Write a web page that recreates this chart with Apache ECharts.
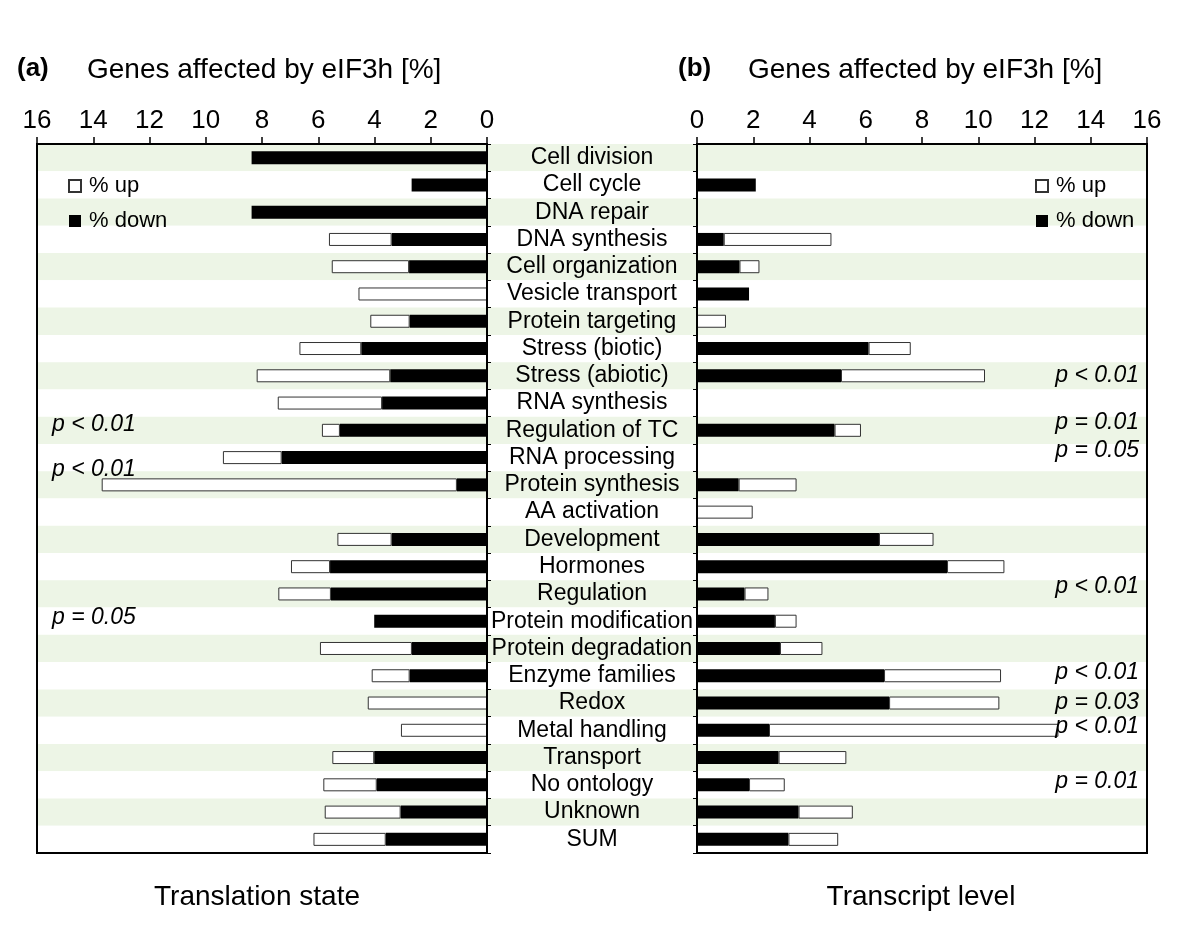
<!DOCTYPE html>
<html>
<head>
<meta charset="utf-8">
<script src="https://cdn.jsdelivr.net/npm/echarts@6/dist/echarts.min.js"></script>
<style>html,body{margin:0;padding:0;background:#fff}#c{width:1200px;height:928px}</style>
</head>
<body>
<div id="c"></div>
<script>
var categories = ['Cell division','Cell cycle','DNA repair','DNA synthesis','Cell organization','Vesicle transport','Protein targeting','Stress (biotic)','Stress (abiotic)','RNA synthesis','Regulation of TC','RNA processing','Protein synthesis','AA activation','Development','Hormones','Regulation','Protein modification','Protein degradation','Enzyme families','Redox','Metal handling','Transport','No ontology','Unknown','SUM'];
// (a) Translation state
var leftDown = [8.37,2.68,8.37,3.39,2.77,0,2.75,4.47,3.44,3.73,5.23,7.30,1.07,0,3.39,5.58,5.55,4.01,2.67,2.75,0,0,4.01,3.92,3.07,3.60];
var leftUp   = [0,0,0,2.23,2.75,4.57,1.40,2.20,4.75,3.71,0.64,2.09,12.63,0,1.93,1.39,1.87,0,3.27,1.35,4.24,3.06,1.49,1.90,2.70,2.57];
// (b) Transcript level
var rightDown = [0,2.09,0,0.95,1.51,1.85,0,6.10,5.12,0,4.89,0,1.48,0,6.47,8.89,1.69,2.77,2.95,6.65,6.83,2.56,2.90,1.85,3.61,3.25];
var rightUp   = [0,0,0,3.83,0.71,0,1.03,1.50,5.12,0,0.94,0,2.06,1.98,1.94,2.04,0.85,0.77,1.51,4.16,3.92,10.29,2.41,1.27,1.93,1.77];
var xTicks = [0,2,4,6,8,10,12,14,16];
var leftPvals = [
  {text:'p < 0.01', y:425},
  {text:'p < 0.01', y:470},
  {text:'p = 0.05', y:618}
];
var rightPvals = [
  {text:'p < 0.01', y:376},
  {text:'p = 0.01', y:423},
  {text:'p = 0.05', y:451},
  {text:'p < 0.01', y:587},
  {text:'p < 0.01', y:673},
  {text:'p = 0.03', y:703},
  {text:'p < 0.01', y:727},
  {text:'p = 0.01', y:782}
];

var FONT = 'Liberation Sans, Arial, Helvetica, sans-serif';
function nz(a){ return a.map(function(v){ return v === 0 ? '-' : v; }); }

var top0 = 144, h0 = 709;
var chart = echarts.init(document.getElementById('c'), null, {renderer:'canvas'});

function valueAxis(gi, inverse){
  return {
    gridIndex: gi, type:'value', min: xTicks[0], max: xTicks[xTicks.length-1], interval: 2,
    inverse: inverse, position:'top', z: 5,
    axisLine:{show:true, lineStyle:{color:'#000', width:2}},
    axisTick:{show:true, inside:false, length:7, lineStyle:{color:'#000', width:1.5}},
    axisLabel:{show:true, color:'#000', fontSize:26, fontFamily:FONT, margin:10},
    splitLine:{show:false}
  };
}

var graphic = [
  {type:'text', left:17, top:56, style:{text:'(a)', font:'bold 26px ' + FONT, fill:'#000'}},
  {type:'text', left:87, top:56, style:{text:'Genes affected by eIF3h [%]', font:'28px ' + FONT, fill:'#000'}},
  {type:'text', left:678, top:56, style:{text:'(b)', font:'bold 26px ' + FONT, fill:'#000'}},
  {type:'text', left:748, top:56, style:{text:'Genes affected by eIF3h [%]', font:'28px ' + FONT, fill:'#000'}},
  {type:'text', x:257, y:897, style:{text:'Translation state', font:'28px ' + FONT, fill:'#000', textAlign:'center', textVerticalAlign:'middle'}},
  {type:'text', x:921, y:897, style:{text:'Transcript level', font:'28px ' + FONT, fill:'#000', textAlign:'center', textVerticalAlign:'middle'}}
];
leftPvals.forEach(function(p){
  graphic.push({type:'text', x:52, y:p.y, z:10, style:{text:p.text, font:'italic 23px ' + FONT, fill:'#000', textAlign:'left', textVerticalAlign:'middle'}});
});
rightPvals.forEach(function(p){
  graphic.push({type:'text', x:1139, y:p.y, z:10, style:{text:p.text, font:'italic 23px ' + FONT, fill:'#000', textAlign:'right', textVerticalAlign:'middle'}});
});

var legendBase = {
  orient:'vertical', top:170, itemWidth:12, itemHeight:12, itemGap:13, selectedMode:false,
  icon:'rect', data:['% up','% down'],
  textStyle:{fontSize:22, color:'#000', fontFamily:FONT, padding:[0,0,0,3]}
};

var option = {
  animation:false,
  backgroundColor:'#fff',
  textStyle:{fontFamily:FONT},
  grid:[
    {left:37, top:top0, width:450, height:h0, show:true, borderColor:'#000', borderWidth:2, backgroundColor:'transparent', z:4},
    {left:697, top:top0, width:450, height:h0, show:true, borderColor:'#000', borderWidth:2, backgroundColor:'transparent', z:4},
    {left:37, top:top0, width:1110, height:h0, show:false}
  ],
  legend:[
    Object.assign({left:63}, legendBase),
    Object.assign({left:1030}, legendBase)
  ],
  xAxis:[
    valueAxis(0, true),
    valueAxis(1, false),
    {gridIndex:2, type:'value', show:false, min:0, max:1}
  ],
  yAxis:[
    {gridIndex:0, type:'category', data:categories, inverse:true, position:'right', z:5,
     axisLine:{show:true, lineStyle:{color:'#000', width:2}},
     axisTick:{show:true, inside:false, length:4, interval:0, lineStyle:{color:'#000'}},
     axisLabel:{show:false}, splitLine:{show:false}},
    {gridIndex:1, type:'category', data:categories, inverse:true, position:'left', z:5,
     axisLine:{show:true, lineStyle:{color:'#000', width:2}},
     axisTick:{show:true, inside:false, length:4, interval:0, lineStyle:{color:'#000'}},
     axisLabel:{show:true, interval:0, hideOverlap:false, align:'center', margin:105, fontSize:23, color:'#000', fontFamily:FONT},
     splitLine:{show:false}},
    {gridIndex:2, type:'category', data:categories, inverse:true, z:-1,
     axisLine:{show:false}, axisTick:{show:false}, axisLabel:{show:false},
     splitArea:{show:true, interval:0, areaStyle:{color:['#edf5e6','#ffffff']}}}
  ],
  series:[
    {name:'% down', type:'bar', xAxisIndex:0, yAxisIndex:0, stack:'L', barWidth:13, data:nz(leftDown),
     itemStyle:{color:'#000', borderColor:'#000', borderWidth:0}},
    {name:'% up', type:'bar', xAxisIndex:0, yAxisIndex:0, stack:'L', barWidth:13, data:nz(leftUp),
     itemStyle:{color:'#fff', borderColor:'#333', borderWidth:1}},
    {name:'% down', type:'bar', xAxisIndex:1, yAxisIndex:1, stack:'R', barWidth:13, data:nz(rightDown),
     itemStyle:{color:'#000', borderColor:'#000', borderWidth:0}},
    {name:'% up', type:'bar', xAxisIndex:1, yAxisIndex:1, stack:'R', barWidth:13, data:nz(rightUp),
     itemStyle:{color:'#fff', borderColor:'#333', borderWidth:1}}
  ],
  graphic: graphic
};
chart.setOption(option);
</script>
</body>
</html>
